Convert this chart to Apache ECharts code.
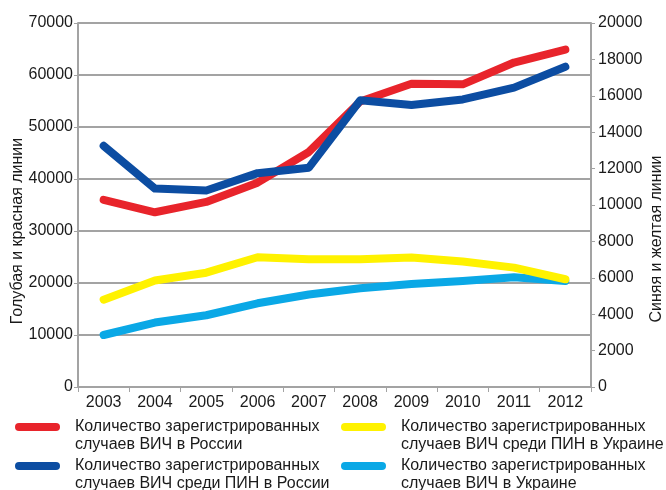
<!DOCTYPE html>
<html>
<head>
<meta charset="utf-8">
<script src="https://cdn.jsdelivr.net/npm/echarts@6/dist/echarts.min.js"></script>
<style>
  html, body { margin: 0; padding: 0; background: #fff; }
  #chart { width: 666px; height: 490px; }
</style>
</head>
<body>
<div id="chart"></div>
<script>
// годы
var years = ['2003', '2004', '2005', '2006', '2007', '2008', '2009', '2010', '2011', '2012']

// левая ось (красная и голубая)
var hivRussia = [36000, 33600, 35600, 39300, 45200, 54900, 58300, 58200, 62400, 64900]
var hivUkraine = [10000, 12400, 13800, 16100, 17800, 19000, 19800, 20400, 21100, 20400]

// правая ось (синяя и желтая)
var pwidRussia = [13250, 10900, 10800, 11750, 12050, 15750, 15500, 15800, 16450, 17600]
var pwidUkraine = [4800, 5850, 6280, 7130, 7020, 7020, 7120, 6900, 6560, 5920]

var names = {
  red: 'Количество зарегистрированных\nслучаев ВИЧ в России',
  blue: 'Количество зарегистрированных\nслучаев ВИЧ среди ПИН в России',
  yellow: 'Количество зарегистрированных\nслучаев ВИЧ среди ПИН в Украине',
  cyan: 'Количество зарегистрированных\nслучаев ВИЧ в Украине'
}

var font = 'Arial, "Liberation Sans", sans-serif'
var gray = '#a3a3a3'
var pill = 'path://M4,0 H41 A4,4 0 0 1 41,8 H4 A4,4 0 0 1 4,0 Z'

var chart = echarts.init(document.getElementById('chart'))

function lineSeries(name, data, axis, color) {
  return {
    name: name,
    type: 'line',
    yAxisIndex: axis,
    data: data,
    symbol: 'none',
    color: color,
    lineStyle: { width: 8, color: color, cap: 'round', join: 'round' }
  }
}

// одна легенда на каждый пункт; пустая строка сверху, чтобы значок стоял на уровне первой строки
function legendItem(name, left, top) {
  return {
    data: [name],
    left: left,
    top: top,
    padding: 0,
    icon: pill,
    itemWidth: 45,
    itemHeight: 9,
    formatter: function (n) { return '\n' + n },
    textStyle: {
      fontFamily: font,
      fontSize: 16,
      color: '#1a1a1a',
      lineHeight: 18,
      padding: [0, 0, 0, 10]
    }
  }
}

function plain(v) { return String(v) }

var nameStyle = { fontFamily: font, fontSize: 16, color: '#1a1a1a' }

chart.setOption({
  animation: false,
  grid: { left: 78, right: 75, top: 23, bottom: 103, containLabel: false, outerBoundsMode: 'none' },
  legend: [
    legendItem(names.red, 15, 400),
    legendItem(names.blue, 15, 439),
    legendItem(names.yellow, 341, 400),
    legendItem(names.cyan, 341, 439)
  ],
  xAxis: {
    type: 'category',
    data: years,
    boundaryGap: true,
    axisLine: { lineStyle: { color: gray, width: 2 } },
    axisTick: { show: true, length: 5, lineStyle: { color: gray, width: 1 } },
    axisLabel: { fontFamily: font, fontSize: 16, color: '#1a1a1a', margin: 8 }
  },
  yAxis: [{
    type: 'value',
    min: 0,
    max: 70000,
    interval: 10000,
    name: 'Голубая и красная линии',
    nameLocation: 'middle',
    nameRotate: 90,
    nameGap: 52,
    nameMoveOverlap: false,
    nameTextStyle: Object.assign({ padding: [0, 52, 0, 0] }, nameStyle),
    axisLine: { show: true, lineStyle: { color: gray, width: 2 } },
    axisTick: { show: true, length: 4, lineStyle: { color: gray } },
    axisLabel: { fontFamily: font, fontSize: 16, color: '#1a1a1a', margin: 5, formatter: plain },
    splitLine: { lineStyle: { color: gray, width: 2 } }
  }, {
    type: 'value',
    min: 0,
    max: 20000,
    interval: 2000,
    position: 'right',
    name: 'Синяя и желтая линии',
    nameLocation: 'middle',
    nameRotate: 90,
    nameGap: 58,
    nameMoveOverlap: false,
    nameTextStyle: Object.assign({ padding: [0, 68, 0, 0] }, nameStyle),
    axisLine: { show: true, lineStyle: { color: gray, width: 2 } },
    axisTick: { show: true, length: 4, lineStyle: { color: gray } },
    axisLabel: { fontFamily: font, fontSize: 16, color: '#1a1a1a', margin: 7, formatter: plain },
    splitLine: { show: false }
  }],
  series: [
    lineSeries(names.red, hivRussia, 0, '#e8242b'),
    lineSeries(names.cyan, hivUkraine, 0, '#0aa8e6'),
    lineSeries(names.blue, pwidRussia, 1, '#0c4da2'),
    lineSeries(names.yellow, pwidUkraine, 1, '#fff200')
  ]
})
</script>
</body>
</html>
